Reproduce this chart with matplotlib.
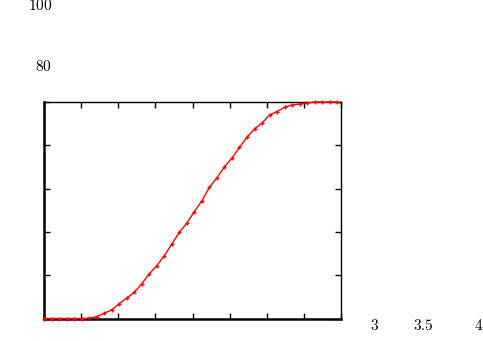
import matplotlib
matplotlib.use("Agg")
import matplotlib.pyplot as plt
import numpy as np

plt.rcParams["mathtext.fontset"] = "cm"

# sampled curve (40 points, step 0.1)
x_vals = np.arange(40) * 0.1
y_vals = [0, 0, 0, 0, 0, 0, 0.1, 0.9, 2.4, 4.0,
          6.8, 9.4, 12.1, 16.0, 20.6, 24.4, 29.0, 34.4, 39.8, 44.1,
          49.4, 54.4, 60.6, 65.0, 70.0, 74.1, 79.1, 83.7, 87.6, 90.3,
          94.0, 95.6, 97.6, 98.6, 99.1, 99.5, 100, 100, 100, 100]

# stray tick labels as they appear in the picture
ylabels = ["100", "80"]
xlabels = ["3", "3.5", "4"]

fig = plt.figure(figsize=(4.83, 3.41), dpi=100)
ax = fig.add_axes([44 / 483, 1 - 318.5 / 341, 297 / 483, 216.5 / 341])

ax.plot(x_vals, y_vals, color="red", lw=1.0, marker="+", ms=3.5, mew=1.0,
        clip_on=False, zorder=3)

ax.set_xlim(0, 3.95)
ax.set_ylim(0, 100)
ax.set_xticks(np.linspace(0, 3.95, 9))
ax.set_yticks(np.arange(0, 101, 20))
ax.tick_params(direction="in", length=4, width=1, top=True, right=True,
               labelbottom=False, labelleft=False)
for s in ["left", "bottom"]:
    ax.spines[s].set_linewidth(1.8)
for s in ["top", "right"]:
    ax.spines[s].set_linewidth(1.0)

fig.text(52 / 483, 1 - 6 / 341, "$" + ylabels[0] + "$", ha="right", va="center", fontsize=11)
fig.text(52 / 483, 1 - 66.5 / 341, "$" + ylabels[1] + "$", ha="right", va="center", fontsize=11)
for lab, px in zip(xlabels, [374.5, 423, 479]):
    fig.text(px / 483, 1 - 325 / 341, "$" + lab + "$", ha="center", va="center", fontsize=11)

fig.savefig("out.png", dpi=100)
